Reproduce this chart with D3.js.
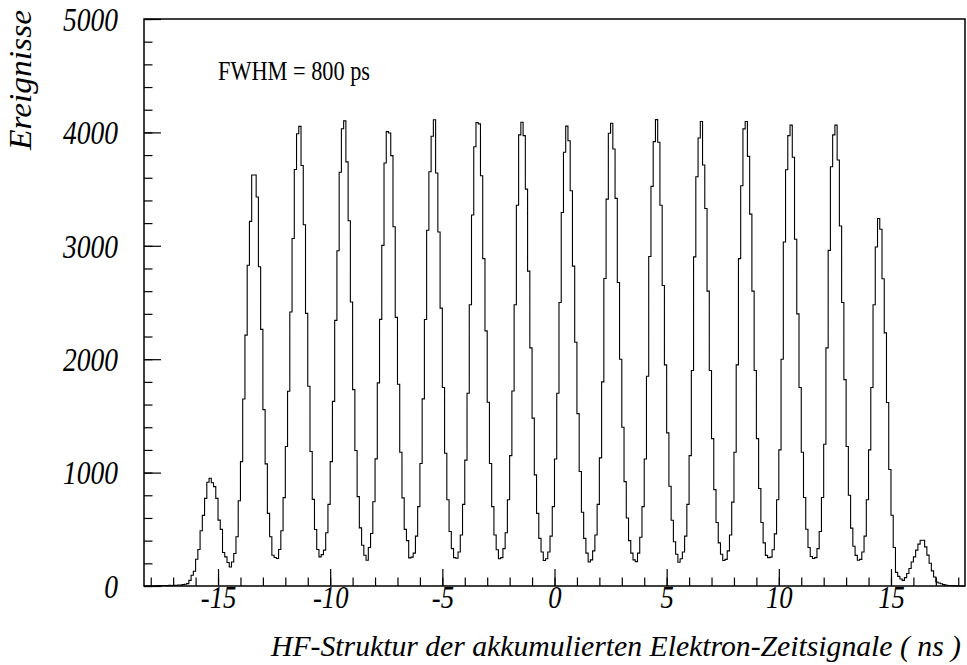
<!DOCTYPE html>
<html>
<head>
<meta charset="utf-8">
<script src="https://cdn.jsdelivr.net/npm/d3@7"></script>
<style>
  body { margin: 0; background: #fff; }
  svg { display: block; }
  .tick text { font-family: "Liberation Serif", "Times New Roman", serif; font-style: italic; }
</style>
</head>
<body>
<div id="chart"></div>
<script>
// histogram: 366 bins of 0.1 ns from -18.3 to 18.3 ns
const xRange = [-18.3, 18.3];
const binWidth = 0.1;
const counts = [
  0, 0, 0, 0, 0, 1, 3, 2, 4, 5, 3, 6, 5, 7, 6, 9, 8, 12, 15,
  21, 50, 95, 130, 236, 322, 487, 623, 773, 915, 950, 911, 876, 773, 581, 499, 295, 257, 207, 168,   // -15.3
  212, 287, 434, 752, 1097, 1649, 2212, 2829, 3215, 3625, 3625, 3430, 2815, 2263, 1555, 1077, 640, 434, 271, 251, // -13.4
  242, 322, 487, 779, 1230, 1717, 2416, 3065, 3673, 3988, 4053, 3708, 3186, 2404, 1761, 1186, 764, 498, 322, 257,
  277, 316, 469, 720, 1097, 1628, 2342, 2956, 3649, 4032, 4102, 3740, 3221, 2504, 1732, 1195, 788, 513, 360, 271,
  227, 339, 463, 743, 1121, 1791, 2351, 3004, 3730, 4007, 3995, 3795, 3168, 2369, 1779, 1180, 777, 499, 400, 248,
  255, 290, 440, 700, 1080, 1650, 2350, 3137, 3653, 3966, 4111, 3642, 3122, 2450, 1750, 1170, 760, 480, 330, 250,
  245, 300, 450, 720, 1110, 1700, 2480, 3272, 3874, 4087, 4075, 3618, 2887, 2250, 1620, 1080, 700, 450, 320, 240,
  250, 330, 470, 760, 1150, 1720, 2480, 3358, 3978, 4090, 3972, 3500, 2777, 2100, 1480, 980, 640, 420, 300, 225,
  240, 300, 440, 700, 1120, 1700, 2500, 3294, 3825, 4055, 3927, 3485, 2821, 2150, 1520, 1010, 650, 420, 290, 212,
  230, 310, 450, 720, 1130, 1800, 2712, 3412, 3993, 4081, 3854, 3418, 2676, 2000, 1400, 920, 600, 400, 290, 230,
  215, 290, 430, 700, 1120, 1850, 2905, 3524, 3919, 4113, 3913, 3358, 2650, 1950, 1350, 880, 580, 390, 280, 210,
  240, 300, 440, 720, 1150, 1900, 2902, 3609, 3951, 4096, 3712, 3329, 2600, 1900, 1300, 850, 560, 380, 280, 225,
  235, 310, 450, 740, 1180, 1950, 2887, 3529, 4031, 4096, 3789, 3279, 2600, 1900, 1300, 860, 560, 380, 270, 250,
  255, 320, 460, 760, 1200, 2000, 3034, 3671, 3972, 4064, 3781, 3058, 2400, 1750, 1180, 780, 500, 340, 260, 242,
  250, 330, 480, 780, 1250, 2100, 2960, 3697, 3978, 4064, 3757, 3175, 2500, 1820, 1230, 800, 510, 350, 270, 227,
  235, 300, 440, 760, 1200, 1750, 2480, 2990, 3241, 3146, 2710, 2232, 1618, 1028, 624, 340, 120, 85, 62, 50,
  74, 110, 154, 212, 257, 316, 369, 404, 404, 345, 272, 201, 133, 80, 35, 27, 20, 12, 8, 5,
  4, 3, 2, 1, 0, 0, 0
];
const xMajor = [-15, -10, -5, 0, 5, 10, 15];
const xMinor = d3.range(-18, 19, 1);
const yMajor = [0, 1000, 2000, 3000, 4000, 5000];
const yMinor = d3.range(0, 5001, 200);
const xTitle = "HF-Struktur der akkumulierten Elektron-Zeitsignale ( ns )";
const yTitle = "Ereignisse";
const note = "FWHM = 800 ps";

const W = 967, H = 665;
const frame = { left: 144, right: 965, top: 19, bottom: 586 };
const squeezeRatio = 1.2;   // text in the original is taller than wide

const svg = d3.select("#chart").append("svg")
  .attr("width", W)
  .attr("height", H);

const x = d3.scaleLinear().domain(xRange).range([frame.left, frame.right]);
const y = d3.scaleLinear().domain([0, 5000]).range([frame.bottom, frame.top]);

// narrow text in its writing direction
function squeeze(sel) {
  sel.each(function() {
    const w = this.getComputedTextLength();
    d3.select(this)
      .attr("textLength", w / squeezeRatio)
      .attr("lengthAdjust", "spacingAndGlyphs");
  });
}

// x axis: minor ticks, then major with labels (ticks point inwards)
svg.append("g")
  .attr("transform", "translate(0," + frame.bottom + ")")
  .call(d3.axisBottom(x).tickValues(xMinor).tickSize(-8.5).tickFormat(""))
  .call(g => g.select(".domain").remove());

svg.append("g")
  .attr("transform", "translate(0," + frame.bottom + ")")
  .call(d3.axisBottom(x).tickValues(xMajor).tickSize(-17).tickFormat(d => String(d)))
  .call(g => g.select(".domain").remove())
  .call(g => g.selectAll("text")
    .attr("font-size", 32)
    .attr("y", 22)
    .attr("dy", 0)
    .attr("fill", "#000")
    .call(squeeze));

// y axis
svg.append("g")
  .attr("transform", "translate(" + frame.left + ",0)")
  .call(d3.axisLeft(y).tickValues(yMinor).tickSize(-8.5).tickFormat(""))
  .call(g => g.select(".domain").remove());

svg.append("g")
  .attr("transform", "translate(" + frame.left + ",0)")
  .call(d3.axisLeft(y).tickValues(yMajor).tickSize(-17).tickPadding(26).tickFormat(d => String(d)))
  .call(g => g.select(".domain").remove())
  .call(g => g.selectAll("text")
    .attr("font-size", 33)
    .attr("dy", "0.34em")
    .attr("fill", "#000")
    .call(squeeze));

svg.selectAll(".tick line").attr("stroke", "#000").attr("stroke-width", 1.2);

// histogram outline
const pts = counts.map((c, i) => [xRange[0] + i * binWidth, c]);
pts.push([xRange[0] + counts.length * binWidth, counts[counts.length - 1]]);

const step = d3.line()
  .x(d => x(d[0]))
  .y(d => y(d[1]))
  .curve(d3.curveStepAfter);

svg.append("path")
  .datum(pts)
  .attr("d", step)
  .attr("fill", "none")
  .attr("stroke", "#000")
  .attr("stroke-width", 1.1);

// frame
svg.append("rect")
  .attr("x", frame.left)
  .attr("y", frame.top)
  .attr("width", frame.right - frame.left)
  .attr("height", frame.bottom - frame.top)
  .attr("fill", "none")
  .attr("stroke", "#000")
  .attr("stroke-width", 1.5);

// titles
svg.append("text")
  .attr("x", 961)
  .attr("y", 656)
  .attr("text-anchor", "end")
  .attr("font-family", "Liberation Serif, serif")
  .attr("font-style", "italic")
  .attr("font-size", 30)
  .attr("textLength", 690)
  .attr("lengthAdjust", "spacingAndGlyphs")
  .text(xTitle);

svg.append("text")
  .attr("transform", "translate(31,10) rotate(-90)")
  .attr("text-anchor", "end")
  .attr("font-family", "Liberation Serif, serif")
  .attr("font-style", "italic")
  .attr("font-size", 32)
  .attr("textLength", 140)
  .attr("lengthAdjust", "spacingAndGlyphs")
  .text(yTitle);

svg.append("text")
  .attr("x", 218)
  .attr("y", 80)
  .attr("font-family", "Liberation Serif, serif")
  .attr("font-size", 27)
  .attr("textLength", 152)
  .attr("lengthAdjust", "spacingAndGlyphs")
  .text(note);
</script>
</body>
</html>
